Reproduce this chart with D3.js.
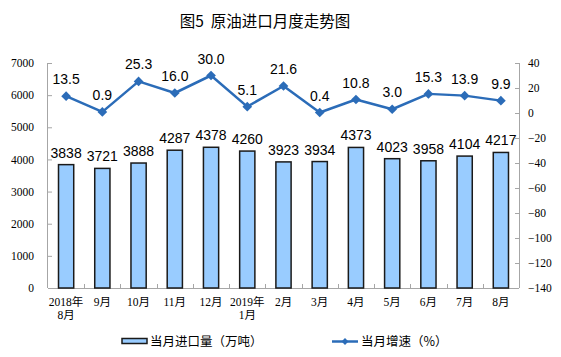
<!DOCTYPE html>
<html><head><meta charset="utf-8">
<script src="https://cdn.jsdelivr.net/npm/d3@7"></script>
<style>body{margin:0;background:#fff}svg{display:block}</style>
</head><body>
<svg id="c" width="561" height="357"></svg>
<script>
const categories = ["2018年|8月","9月","10月","11月","12月","2019年|1月","2月","3月","4月","5月","6月","7月","8月"];
const imports = [3838,3721,3888,4287,4378,4260,3923,3934,4373,4023,3958,4104,4217];
const growth = [13.5,0.9,25.3,16.0,30.0,5.1,21.6,0.4,10.8,3.0,15.3,13.9,9.9];
const leftTicks = [0,1000,2000,3000,4000,5000,6000,7000];
const rightTicks = [40,20,0,-20,-40,-60,-80,-100,-120,-140];
const title = "图5  原油进口月度走势图";
const legendBar = "当月进口量（万吨）";
const legendLine = "当月增速（%）";

const svg = d3.select("#c");
const L = 48, R = 519, T = 63, B = 288;
const x = d3.scaleBand().domain(categories).range([L, R]).paddingInner(0.58).paddingOuter(0.29);
const band = d3.scaleBand().domain(categories).range([L, R]);
const yL = d3.scaleLinear().domain([0, 7000]).range([B, T]);
const yR = d3.scaleLinear().domain([-140, 40]).range([B, T]);
const axisColor = "#a6a6a6";
const tickFont = "'Liberation Serif','Noto Sans CJK SC',serif";
const sans = "'Liberation Sans',Arial,sans-serif";
const cjk = "'Noto Sans CJK SC',sans-serif";
const lineColor = "#2b6cb8";

svg.append("text").attr("x", 265).attr("y", 27).attr("text-anchor", "middle")
  .style("white-space", "pre")
  .attr("font-family", cjk).attr("font-size", 15.5).attr("fill", "#000").text(title);

// left axis
const gl = svg.append("g").attr("transform", `translate(${L},0)`)
  .call(d3.axisLeft(yL).tickValues(leftTicks).tickSize(-4).tickPadding(14).tickFormat(d3.format("d")));
gl.select(".domain").attr("stroke", axisColor).attr("d", `M-0.5,${T}V${B}`);
gl.selectAll(".tick line").attr("stroke", axisColor);
gl.selectAll("text").attr("font-family", tickFont).attr("font-size", 11.5).attr("fill", "#000");

// right axis
const gr = svg.append("g").attr("transform", `translate(${R},0)`)
  .call(d3.axisRight(yR).tickValues(rightTicks).tickSize(-4).tickPadding(9).tickFormat(d3.format("d")));
gr.select(".domain").attr("stroke", axisColor).attr("d", `M0.5,${T}V${B}`);
gr.selectAll(".tick line").attr("stroke", axisColor);
gr.selectAll("text").attr("font-family", tickFont).attr("font-size", 11.5).attr("fill", "#000");

// x axis
const gx = svg.append("g").attr("transform", `translate(0,${B})`);
gx.append("line").attr("x1", L).attr("x2", R).attr("y1", 0.5).attr("y2", 0.5).attr("stroke", axisColor);
gx.selectAll("line.t").data(categories.slice(1)).join("line").attr("class","t")
  .attr("x1", d => Math.round(band(d)) + 0.5).attr("x2", d => Math.round(band(d)) + 0.5)
  .attr("y1", 0).attr("y2", -4).attr("stroke", axisColor);
const xl = gx.selectAll("text").data(categories).join("text")
  .attr("text-anchor", "middle").attr("font-family", tickFont).attr("font-size", 11.5).attr("fill", "#000");
xl.each(function(d){
  const parts = d.split("|");
  const cx = x(d) + x.bandwidth()/2;
  parts.forEach((p,i) => d3.select(this).append("tspan").attr("x", cx).attr("y", 18 + i*13).text(p));
});

// bars
svg.append("g").selectAll("rect").data(imports).join("rect")
  .attr("x", (d,i) => x(categories[i])).attr("width", x.bandwidth())
  .attr("y", d => yL(d)).attr("height", d => B - yL(d))
  .attr("fill", "#99ccff").attr("stroke", "#1a1a1a").attr("stroke-width", 1.5);
svg.append("g").selectAll("text").data(imports).join("text")
  .attr("x", (d,i) => x(categories[i]) + x.bandwidth()/2).attr("y", d => yL(d) - 7)
  .attr("text-anchor", "middle").attr("font-family", sans).attr("font-size", 14).attr("fill", "#000")
  .text(d => d);

// line
const cxf = i => x(categories[i]) + x.bandwidth()/2;
svg.append("path").datum(growth)
  .attr("d", d3.line().x((d,i) => cxf(i)).y(d => yR(d)))
  .attr("fill", "none").attr("stroke", lineColor).attr("stroke-width", 2.5).attr("stroke-linejoin", "round");
svg.append("g").selectAll("path").data(growth).join("path")
  .attr("transform", (d,i) => `translate(${cxf(i)},${yR(d)})`)
  .attr("d", d3.symbol(d3.symbolDiamond2, 60)).attr("fill", lineColor);
svg.append("g").selectAll("text").data(growth).join("text")
  .attr("x", (d,i) => cxf(i)).attr("y", d => yR(d) - 12)
  .attr("text-anchor", "middle").attr("font-family", sans).attr("font-size", 14).attr("fill", "#000")
  .text(d => d.toFixed(1));

// legend
const lg = svg.append("g");
lg.append("rect").attr("x", 122).attr("y", 338.5).attr("width", 25).attr("height", 5)
  .attr("fill", "#99ccff").attr("stroke", "#1a1a1a").attr("stroke-width", 1.5);
lg.append("text").attr("x", 150).attr("y", 346).attr("font-family", cjk).attr("font-size", 12.5).attr("fill", "#000").text(legendBar);
lg.append("line").attr("x1", 332).attr("x2", 358).attr("y1", 341.5).attr("y2", 341.5).attr("stroke", lineColor).attr("stroke-width", 2.5);
lg.append("path").attr("transform", "translate(345,341.5)").attr("d", d3.symbol(d3.symbolDiamond2, 30)).attr("fill", lineColor);
lg.append("text").attr("x", 361).attr("y", 346).attr("font-family", cjk).attr("font-size", 12.5).attr("fill", "#000").text(legendLine);
</script>
</body></html>
